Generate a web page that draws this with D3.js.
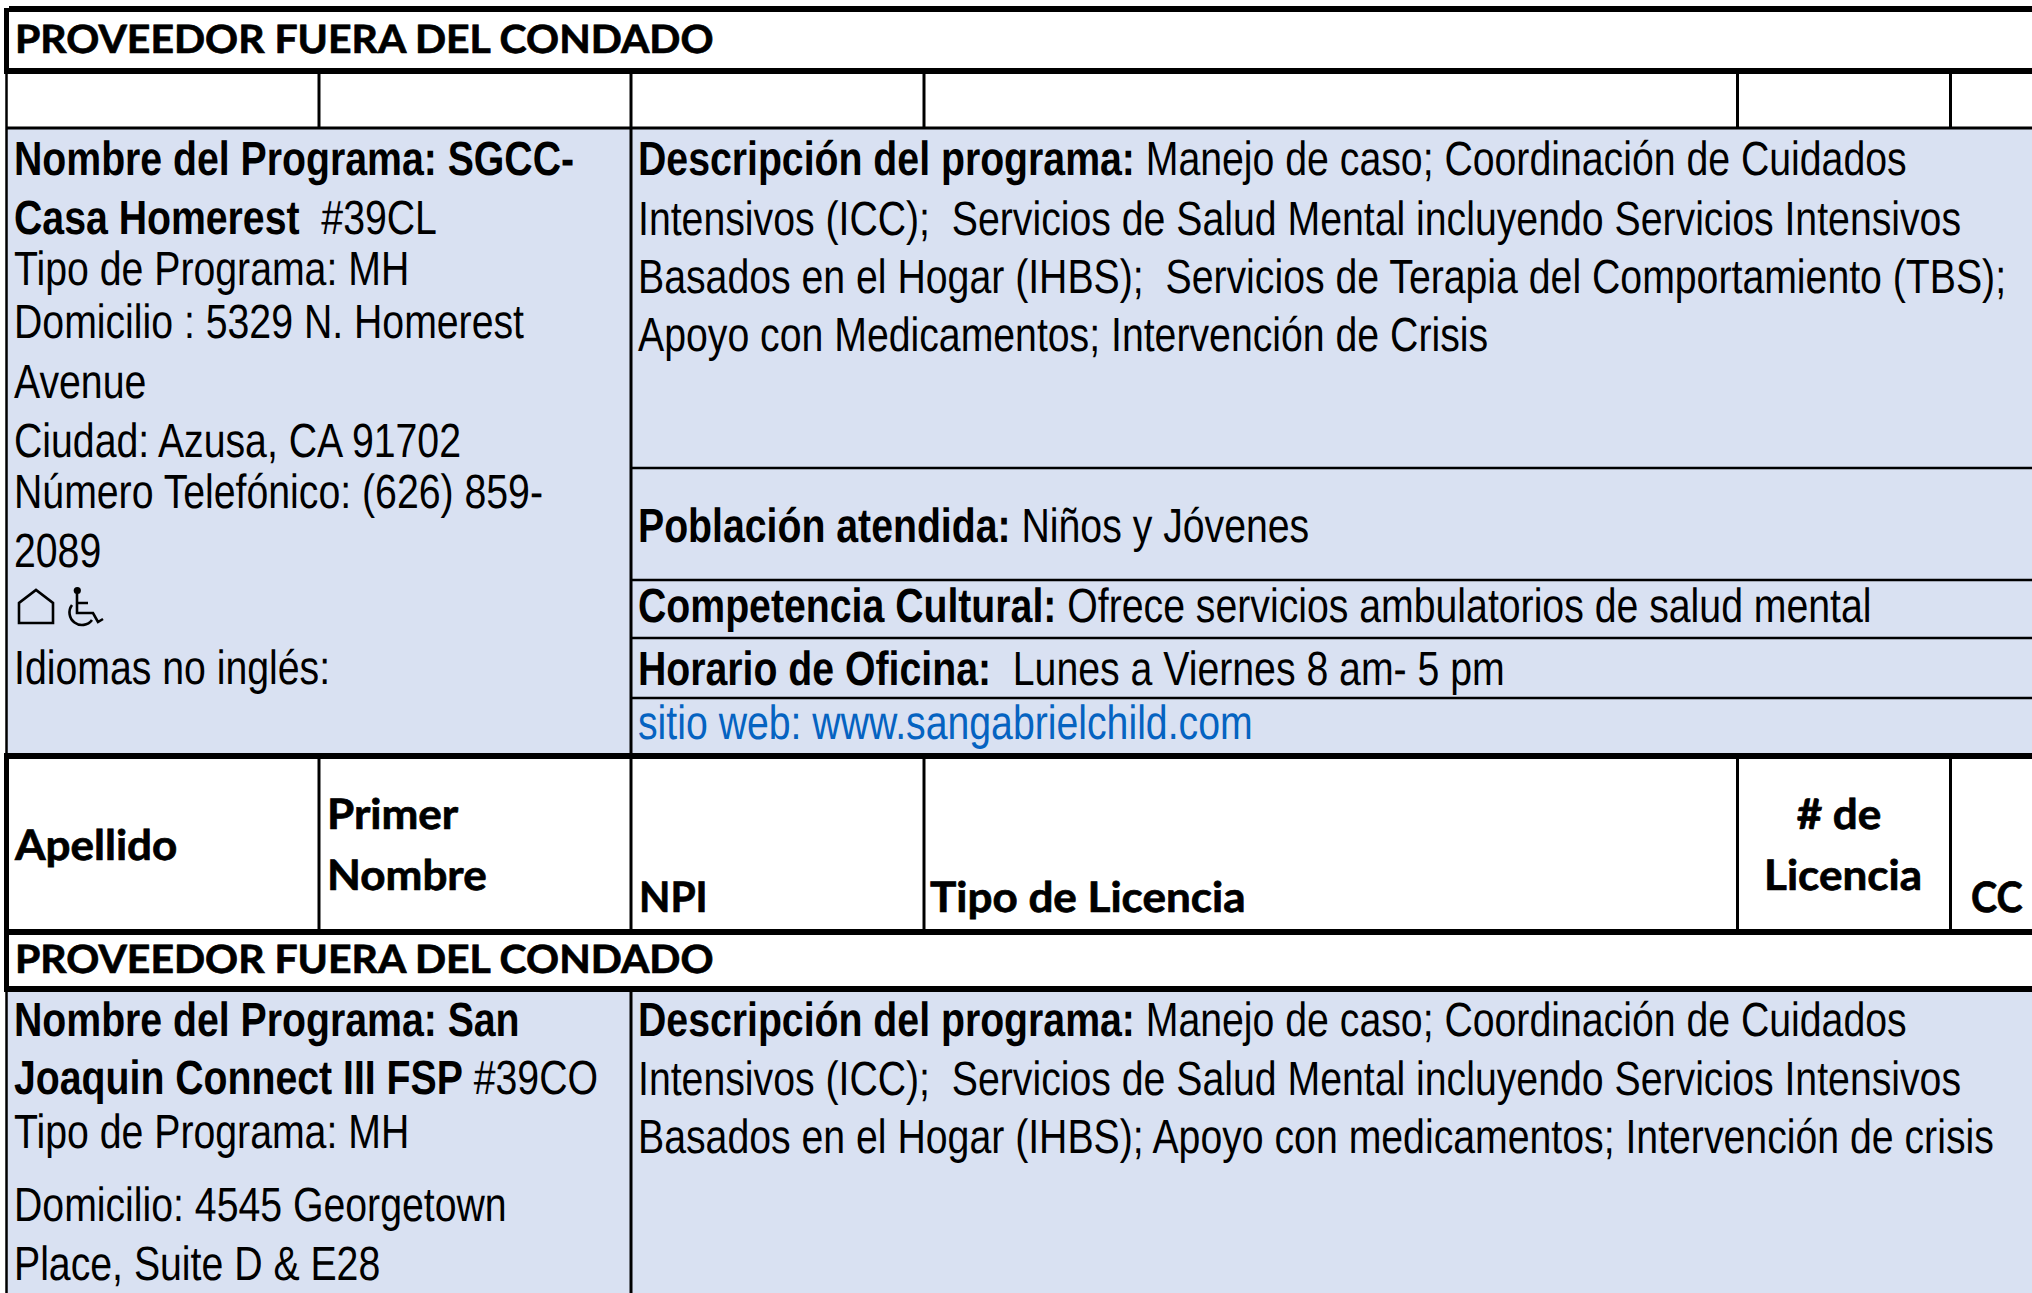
<!DOCTYPE html>
<html>
<head>
<meta charset="utf-8">
<script src="https://cdn.jsdelivr.net/npm/d3@7"></script>
<style>
  html, body { margin: 0; padding: 0; background: #fff; overflow: hidden; }
  svg { display: block; text-rendering: geometricPrecision; }
</style>
</head>
<body>
<svg id="sheet" width="2032" height="1293"></svg>
<script>
// ---------- table contents ---------- //
const sectionTitle = 'PROVEEDOR FUERA DEL CONDADO';
const columnNames = ['apellido', 'nombre', 'npi', 'licencia', 'numero', 'cc'];
const columnHeaders = [
  ['Apellido'],
  ['Primer', 'Nombre'],
  ['NPI'],
  ['Tipo de Licencia'],
  ['# de', 'Licencia'],
  ['CC'],
];

// every line is [bold part, regular part]
const program1Left = [
  ['Nombre del Programa: SGCC-', ''],
  ['Casa Homerest', '  #39CL'],
  ['', 'Tipo de Programa: MH'],
  ['', 'Domicilio : 5329 N. Homerest'],
  ['', 'Avenue'],
  ['', 'Ciudad: Azusa, CA 91702'],
  ['', 'Número Telefónico: (626) 859-'],
  ['', '2089'],
  ['', ''],
  ['', 'Idiomas no inglés:'],
];
const program1Right = [
  ['Descripción del programa:', ' Manejo de caso; Coordinación de Cuidados'],
  ['', 'Intensivos (ICC);  Servicios de Salud Mental incluyendo Servicios Intensivos'],
  ['', 'Basados en el Hogar (IHBS);  Servicios de Terapia del Comportamiento (TBS);'],
  ['', 'Apoyo con Medicamentos; Intervención de Crisis'],
  ['Población atendida:', ' Niños y Jóvenes'],
  ['Competencia Cultural:', ' Ofrece servicios ambulatorios de salud mental'],
  ['Horario de Oficina:', '  Lunes a Viernes 8 am- 5 pm'],
];
const websiteLine = 'sitio web: www.sangabrielchild.com';

const program2Left = [
  ['Nombre del Programa: San', ''],
  ['Joaquin Connect III FSP', ' #39CO'],
  ['', 'Tipo de Programa: MH'],
  ['', 'Domicilio: 4545 Georgetown'],
  ['', 'Place, Suite D & E28'],
];
const program2Right = [
  ['Descripción del programa:', ' Manejo de caso; Coordinación de Cuidados'],
  ['', 'Intensivos (ICC);  Servicios de Salud Mental incluyendo Servicios Intensivos'],
  ['', 'Basados en el Hogar (IHBS); Apoyo con medicamentos; Intervención de crisis'],
];

// ---------- layout ---------- //
const width = 2032, height = 1293;
const colX = d3.scaleOrdinal(columnNames, [8, 319, 631, 924, 1737.5, 1950.5]);
const rowY = d3.scaleOrdinal(
  ['top', 'title', 'blank', 'desc', 'pob', 'comp', 'hor', 'head', 'headEnd', 'title2'],
  [9, 71, 128, 468, 580, 638, 698, 756, 932, 989]
);
const bodySize = 48, bodyScale = 0.817;
const titleSize = 39, titleScale = 1.05;
const headSize = 42, headScale = 1.048;
const blue = '#d9e1f2', link = '#0563c1';

const svg = d3.select('#sheet');

// ---------- fills ---------- //
svg.append('rect').attr('width', width).attr('height', height).attr('fill', '#fff');
[[rowY('blank'), rowY('head')], [rowY('title2'), height]].forEach(([y0, y1]) => {
  svg.append('rect').attr('x', 7).attr('y', y0).attr('width', width - 7).attr('height', y1 - y0).attr('fill', blue);
});

// ---------- grid ---------- //
function hLine(y, x0, w) {
  svg.append('line').attr('x1', x0).attr('x2', width).attr('y1', y).attr('y2', y)
    .attr('stroke', '#000').attr('stroke-width', w);
}
function vLine(x, y0, y1, w) {
  svg.append('line').attr('x1', x).attr('x2', x).attr('y1', y0).attr('y2', y1)
    .attr('stroke', '#000').attr('stroke-width', w);
}

columnNames.slice(1).forEach((c) => {
  vLine(colX(c), rowY('title'), rowY('blank'), 3);
  vLine(colX(c), rowY('head'), rowY('headEnd'), 3);
});
vLine(colX('npi'), rowY('blank'), rowY('head'), 3);
vLine(colX('npi'), rowY('title2'), height, 3);

vLine(6.5, 71, 755, 2.5);
vLine(6.5, rowY('title2'), height, 2.5);
vLine(6.5, 8, 74, 5);
vLine(6.5, 753, rowY('title2') + 3, 5);

hLine(rowY('top'), 9, 6);
hLine(rowY('title'), 4, 6);
hLine(rowY('blank'), 7, 3);
hLine(rowY('desc'), colX('npi'), 2.5);
hLine(rowY('pob'), colX('npi'), 2.5);
hLine(rowY('comp'), colX('npi'), 2.5);
hLine(rowY('hor'), colX('npi'), 2.5);
hLine(rowY('head'), 4, 6);
hLine(rowY('headEnd'), 4, 6);
hLine(rowY('title2'), 4, 6);

// ---------- text ---------- //
function bodyLine(line, x, y, fill) {
  const t = svg.append('text')
    .attr('transform', `translate(${x},${y}) scale(${bodyScale},1)`)
    .attr('font-family', '"Liberation Sans", Arial, sans-serif')
    .attr('font-size', bodySize)
    .attr('fill', fill || '#000')
    .style('white-space', 'pre');
  if (line[0]) t.append('tspan').attr('font-weight', 700).text(line[0]);
  if (line[1]) t.append('tspan').text(line[1]);
}
function headLine(str, x, y, anchor, size, sx) {
  svg.append('text')
    .attr('transform', `translate(${x},${y}) scale(${sx || headScale},1)`)
    .attr('font-family', 'Lato, "Open Sans", sans-serif')
    .attr('font-weight', 700)
    .attr('font-size', size || headSize)
    .attr('text-anchor', anchor || 'start')
    .attr('stroke', '#000')
    .attr('stroke-width', 0.7)
    .text(str);
}

headLine(sectionTitle, 15, 53, 'start', titleSize, titleScale);
headLine(sectionTitle, 15, 973, 'start', titleSize, titleScale);

const leftX = 14, rightX = 638;
const left1Y = [175, 234, 285, 338, 398, 457, 508, 567, 0, 684];
program1Left.forEach((line, i) => {
  if (line[0] || line[1]) bodyLine(line, leftX, left1Y[i]);
});
const right1Y = [175, 235, 293, 351, 542, 622, 685];
program1Right.forEach((line, i) => bodyLine(line, rightX, right1Y[i]));
bodyLine(['', websiteLine], rightX, 739, link);

// house + wheelchair symbols
const icons = svg.append('g')
  .attr('fill', 'none')
  .attr('stroke', '#000')
  .attr('stroke-width', 2.6)
  .attr('stroke-linejoin', 'miter');
icons.append('path').attr('d', 'M19,623 V603 L36,590 L53,603 V623 Z');
icons.append('circle').attr('cx', 77.3).attr('cy', 590.5).attr('r', 3.6).attr('fill', '#000').attr('stroke', 'none');
icons.append('path').attr('d', 'M77,593 V613 H93 L98,622 L103,619 M77,603 H88');
icons.append('path').attr('d', 'M72,605 A12.5,12.5 0 1 0 92,620');

const left2Y = [1036, 1094, 1148, 1221, 1280];
program2Left.forEach((line, i) => bodyLine(line, leftX, left2Y[i]));
const right2Y = [1036, 1095, 1153];
program2Right.forEach((line, i) => bodyLine(line, rightX, right2Y[i]));

// column headers
headLine(columnHeaders[0][0], 15, 860);
headLine(columnHeaders[1][0], 327, 829);
headLine(columnHeaders[1][1], 327, 890);
headLine(columnHeaders[2][0], 639, 912, 'start', headSize, 0.97);
headLine(columnHeaders[3][0], 930, 912);
headLine(columnHeaders[4][0], 1839, 829, 'middle');
headLine(columnHeaders[4][1], 1843, 890, 'middle');
headLine(columnHeaders[5][0], 1971, 912, 'start', headSize, 0.94);
</script>
</body>
</html>
